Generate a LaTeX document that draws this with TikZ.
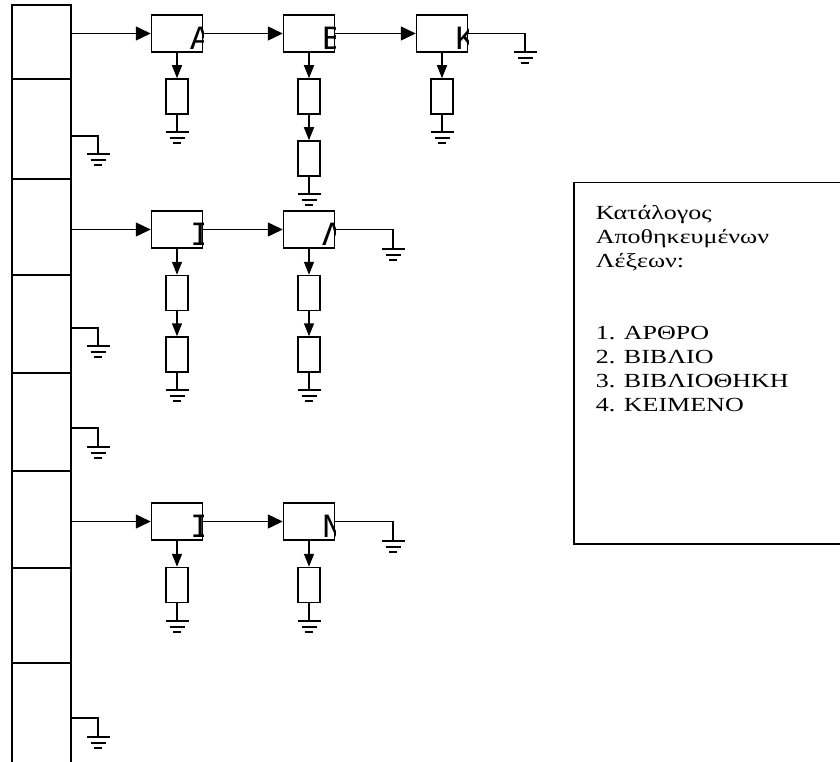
\documentclass[tikz,border=0pt]{standalone}
\usepackage{fontspec}
\setmainfont{Liberation Serif}
\newfontfamily\listfont{Liberation Serif}[FakeStretch=1.3]
\newfontfamily\cellfont{Liberation Mono}
\usetikzlibrary{positioning,arrows.meta}

\tikzset{
  slot/.style={draw, minimum width=59pt, inner sep=0pt},
  cell/.style={draw, minimum width=51pt, minimum height=37pt, inner sep=0pt},
  letter/.style={anchor=base west, inner sep=0pt, font=\cellfont\fontsize{34}{34}\selectfont},
  entry/.style={draw, minimum width=22pt, minimum height=35pt, inner sep=0pt},
  dn/.style={-{Triangle[length=13pt, width=10pt]}},
  ground/.pic={\draw (-11.5,0) -- (11.5,0) (-7.5,6) -- (7.5,6) (-4,11) -- (4,11);}
}

\begin{document}
\begin{tikzpicture}[x=1pt, y=-1pt, line width=1.5pt, >={Triangle[length=15pt, width=14pt]}]
      \useasboundingbox (0,0) rectangle (840,762);

      % hash column
      \node[slot, minimum height=74pt] (s1) at (41.5,42) {};
      \node[slot, minimum height=100pt] (s2) at (41.5,129) {};
      \node[slot, minimum height=96pt] (s3) at (41.5,227) {};
      \node[slot, minimum height=98pt] (s4) at (41.5,324) {};
      \node[slot, minimum height=98pt] (s5) at (41.5,422) {};
      \node[slot, minimum height=97pt] (s6) at (41.5,519.5) {};
      \node[slot, minimum height=95pt] (s7) at (41.5,615.5) {};
      \node[slot, minimum height=110pt] (s8) at (41.5,718) {};

      % letter cells
      \node[cell] (k1) at (177,33.5) {};
      \node[cell] (k2) at (309,33.5) {};
      \node[cell] (k3) at (442,33.5) {};
      \node[cell] (l1) at (177,229.5) {};
      \node[cell] (l2) at (309,229.5) {};
      \node[cell] (n1) at (177,521.5) {};
      \node[cell] (n2) at (309,521.5) {};
      % letters, cut off by the cell's right side
      \foreach \c/\t in {k1/Α, k2/Β, k3/Κ, l1/Ι, l2/Λ, n1/Ι, n2/Ν} {
        \begin{scope}
          \clip (\c.south west) rectangle (\c.north east);
          \node[letter] (\c t) at ([xshift=-14pt, yshift=3pt]\c.south east) {\t};
        \end{scope}
      }

      % word entries
      \node[entry] (k1a) at (177,96.5) {};
      \node[entry] (k2a) at (309,96.5) {};
      \node[entry] (k2b) at (309,158.5) {};
      \node[entry] (k3a) at (442,96.5) {};
      \node[entry] (l1a) at (177,293) {};
      \node[entry] (l1b) at (177,354.5) {};
      \node[entry] (l2a) at (309,293) {};
      \node[entry] (l2b) at (309,354.5) {};
      \node[entry] (n1a) at (177,585) {};
      \node[entry] (n2a) at (309,585) {};

      % ground points
      \coordinate (g2) at (98,154);
      \coordinate (g4) at (98,346);
      \coordinate (g5) at (98,447);
      \coordinate (g8) at (98,737);
      \coordinate (gk) at (525,52);
      \coordinate (gl) at (393,249);
      \coordinate (gn) at (393,541);
      \coordinate (gk1) at (177,132);
      \coordinate (gk2) at (309,194);
      \coordinate (gk3) at (442,132);
      \coordinate (gl1) at (177,390);
      \coordinate (gl2) at (309,390);
      \coordinate (gn1) at (177,621);
      \coordinate (gn2) at (309,621);

      % chains
      \draw[->] (s1.east |- k1.west) -- (k1.west);
      \draw[->] (k1.east) -- (k2.west);
      \draw[->] (k2.east) -- (k3.west);
      \draw[->] (s3.east |- l1.west) -- (l1.west);
      \draw[->] (l1.east) -- (l2.west);
      \draw[->] (s6.east |- n1.west) -- (n1.west);
      \draw[->] (n1.east) -- (n2.west);

      \draw[dn] (k1.south) -- (k1a.north);
      \draw[dn] (k2.south) -- (k2a.north);
      \draw[dn] (k2a.south) -- (k2b.north);
      \draw[dn] (k3.south) -- (k3a.north);
      \draw[dn] (l1.south) -- (l1a.north);
      \draw[dn] (l1a.south) -- (l1b.north);
      \draw[dn] (l2.south) -- (l2a.north);
      \draw[dn] (l2a.south) -- (l2b.north);
      \draw[dn] (n1.south) -- (n1a.north);
      \draw[dn] (n2.south) -- (n2a.north);

      % ends to ground
      \draw ([yshift=-7pt]s2.east) -| (g2);
      \draw ([yshift=-4pt]s4.east) -| (g4);
      \draw ([yshift=-6pt]s5.east) -| (g5);
      \draw (s8.east) -| (g8);
      \draw (k3.east) -| (gk);
      \draw (l2.east) -| (gl);
      \draw (n2.east) -| (gn);
      \draw (k1a.south) -- (gk1);
      \draw (k2b.south) -- (gk2);
      \draw (k3a.south) -- (gk3);
      \draw (l1b.south) -- (gl1);
      \draw (l2b.south) -- (gl2);
      \draw (n1a.south) -- (gn1);
      \draw (n2a.south) -- (gn2);
      \foreach \g in {g2,g4,g5,g8,gk,gl,gn,gk1,gk2,gk3,gl1,gl2,gn1,gn2}
        \pic at (\g) {ground};

      % word list
      \node[draw, anchor=north west, inner sep=0pt, minimum width=280pt, minimum height=361pt] (listbox) at (573,182) {};
      \node[anchor=north west, align=left, inner sep=0pt, font=\listfont\fontsize{20}{24}\selectfont] (list)
        at ([xshift=22pt, yshift=-23pt]listbox.north west)
        {Κατάλογος\\ Αποθηκευμένων\\ Λέξεων:\\[48pt] 1. ΑΡΘΡΟ\\ 2. ΒΙΒΛΙΟ\\ 3. ΒΙΒΛΙΟΘΗΚΗ\\ 4. ΚΕΙΜΕΝΟ};
    \end{tikzpicture}
\end{document}
